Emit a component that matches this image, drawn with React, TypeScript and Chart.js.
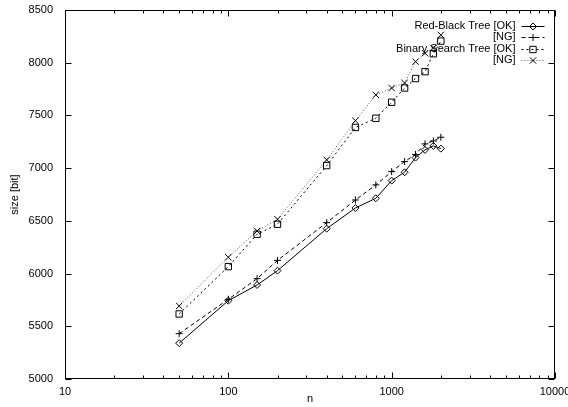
import React, { useEffect, useRef } from 'react';
import { Chart, registerables } from 'chart.js';
import { drawPoint } from 'chart.js/helpers';

Chart.register(...registerables);

const nValues = [50, 100, 150, 200, 400, 600, 800, 1000, 1200, 1400, 1600, 1800, 2000];
const seriesLabels = ['Red-Black Tree [OK]', '[NG]', 'Binary Search Tree [OK]', '[NG]'];
const rbOk = [5340, 5743, 5892, 6028, 6426, 6622, 6714, 6882, 6961, 7100, 7173, 7211, 7185];
const rbNg = [5430, 5756, 5952, 6125, 6483, 6698, 6841, 6967, 7062, 7130, 7230, 7258, 7293];
const bstOk = [5617, 6066, 6373, 6468, 7024, 7386, 7473, 7625, 7760, 7850, 7915, 8085, 8205];
const bstNg = [5693, 6155, 6404, 6515, 7078, 7450, 7695, 7760, 7808, 8010, 8090, 8140, 8264];
const xMajorTicks = [10, 100, 1000, 10000];
const xMinorTicks = [20, 30, 40, 50, 60, 70, 80, 90, 200, 300, 400, 500, 600, 700, 800, 900, 2000, 3000, 4000, 5000, 6000, 7000, 8000, 9000];
const yTicks = [5000, 5500, 6000, 6500, 7000, 7500, 8000, 8500];
const xTitle = 'n';
const yTitle = 'size [bit]';

const seriesValues = [rbOk, rbNg, bstOk, bstNg];
const seriesStyles = [
  { dash: [] as number[], color: '#000', pointStyle: 'rectRot', radius: 3.5 },
  { dash: [4, 3], color: '#000', pointStyle: 'cross', radius: 3.5 },
  { dash: [2, 3], color: '#000', pointStyle: 'rect', radius: 4.5 },
  { dash: [1, 2], color: '#555', pointStyle: 'crossRot', radius: 4.5 },
];
const legendRows = [25.5, 37, 48.5, 60];

const framePlugin = {
  id: 'gnuframe',
  afterDatasetsDraw(chart: any) {
    const { ctx, chartArea, scales } = chart;
    const { left, right, top, bottom } = chartArea;
    const xs = scales.x;
    const ys = scales.y;
    ctx.save();
    ctx.strokeStyle = '#000';
    ctx.lineWidth = 1;
    ctx.setLineDash([]);
    const L = Math.round(left) + 0.5;
    const R = Math.round(right) - 0.5;
    const T = Math.round(top) + 0.5;
    const B = Math.round(bottom) - 0.5;
    ctx.strokeRect(L, T, R - L, B - T);
    ctx.beginPath();
    const tickX = (v: number, len: number) => {
      const px = Math.round(xs.getPixelForValue(v)) + 0.5;
      ctx.moveTo(px, B);
      ctx.lineTo(px, B - len);
      ctx.moveTo(px, T);
      ctx.lineTo(px, T + len);
    };
    xMajorTicks.forEach((v) => tickX(v, 6));
    xMinorTicks.forEach((v) => tickX(v, 3));
    yTicks.forEach((v) => {
      const py = Math.round(ys.getPixelForValue(v)) + 0.5;
      ctx.moveTo(L, py);
      ctx.lineTo(L + 6, py);
      ctx.moveTo(R, py);
      ctx.lineTo(R - 6, py);
    });
    ctx.stroke();

    // legend
    ctx.font = '11px "Liberation Sans", Arial, sans-serif';
    ctx.fillStyle = '#000';
    ctx.textAlign = 'right';
    ctx.textBaseline = 'middle';
    const textRight = R - 39;
    const sx0 = R - 33;
    const sx1 = R - 10;
    seriesLabels.forEach((label, i) => {
      const yy = legendRows[i] + top - 10;
      const st = seriesStyles[i];
      ctx.fillStyle = '#000';
      ctx.fillText(label, textRight, yy);
      ctx.strokeStyle = st.color;
      ctx.setLineDash(st.dash);
      ctx.beginPath();
      ctx.moveTo(sx0, Math.round(yy) + 0.5);
      ctx.lineTo(sx1, Math.round(yy) + 0.5);
      ctx.stroke();
      ctx.setLineDash([]);
      ctx.strokeStyle = '#000';
      ctx.fillStyle = 'rgba(0,0,0,0)';
      drawPoint(ctx, { pointStyle: st.pointStyle, radius: st.radius, borderWidth: 1, rotation: 0 } as any, (sx0 + sx1) / 2, Math.round(yy) + 0.5);
    });
    ctx.restore();
  },
};

export default function App() {
  const ref = useRef<HTMLCanvasElement>(null);
  useEffect(() => {
    document.body.style.margin = '0';
    Chart.defaults.font.family = '"Liberation Sans", Arial, sans-serif';
    Chart.defaults.font.size = 11;
    Chart.defaults.color = '#000';
    const datasets = seriesLabels.map((label, i) => {
      const st = seriesStyles[i];
      return {
        label,
        data: nValues.map((n, j) => ({ x: n, y: seriesValues[i][j] })),
        borderColor: st.color,
        borderWidth: 1,
        borderDash: st.dash,
        tension: 0,
        fill: false,
        pointStyle: st.pointStyle,
        pointRadius: st.radius,
        pointBorderColor: '#000',
        pointBackgroundColor: 'rgba(0,0,0,0)',
        pointBorderWidth: 1,
      };
    });
    const chart = new Chart(ref.current!, {
      type: 'line',
      data: { datasets } as any,
      options: {
        animation: false,
        responsive: false,
        layout: { padding: { top: 10, right: 13, left: 0, bottom: 0 } },
        plugins: { legend: { display: false }, tooltip: { enabled: false } },
        scales: {
          x: {
            type: 'logarithmic',
            min: 10,
            max: 10000,
            grid: { display: false, drawTicks: false },
            border: { display: false },
            ticks: { padding: 6, maxRotation: 0, autoSkip: false, callback: (v: any) => String(v) },
            afterBuildTicks: (s: any) => {
              s.ticks = xMajorTicks.map((v) => ({ value: v }));
            },
            afterFit: (s: any) => {
              s.height = 28;
              s.paddingLeft = 0;
              s.paddingRight = 0;
            },
            title: { display: true, text: xTitle, padding: { top: 0, bottom: 1 }, font: { size: 11 } },
          },
          y: {
            type: 'linear',
            min: 5000,
            max: 8500,
            grid: { display: false, drawTicks: false },
            border: { display: false },
            ticks: { padding: 12, callback: (v: any) => String(v) },
            afterBuildTicks: (s: any) => {
              s.ticks = yTicks.map((v) => ({ value: v }));
            },
            afterFit: (s: any) => {
              s.width = 65;
              s.paddingTop = 0;
              s.paddingBottom = 0;
            },
            title: { display: true, text: yTitle, padding: { top: 8, bottom: 0 }, font: { size: 11 } },
          },
        },
      } as any,
      plugins: [framePlugin],
    });
    return () => chart.destroy();
  }, []);
  return (
    <div style={{ position: 'fixed', left: 0, top: 0, width: 568, height: 407, background: '#fff' }}>
      <canvas ref={ref} width={568} height={407} style={{ display: 'block' }} />
    </div>
  );
}
